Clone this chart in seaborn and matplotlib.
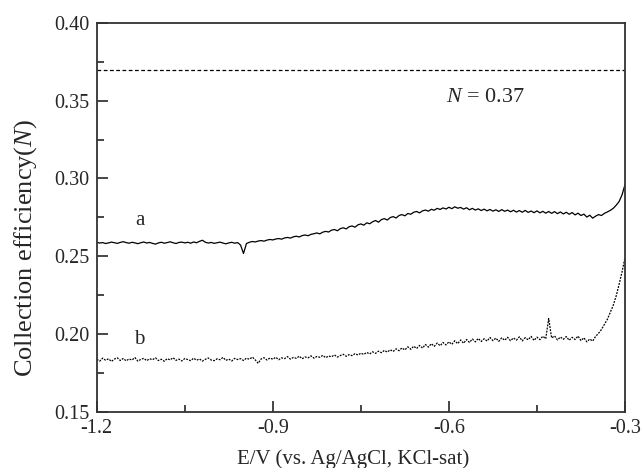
import numpy as np
import pandas as pd
import seaborn as sns
import matplotlib.pyplot as plt
from matplotlib.ticker import MultipleLocator, FormatStrFormatter

# potential grid, -1.2 .. -0.3 V in 5 mV steps
potential = np.linspace(-1.2, -0.3, 181)

# curve a
eff_a = [
    0.2590, 0.2585, 0.2588, 0.2582, 0.2586, 0.2591, 0.2587, 0.2583, 0.2589, 0.2594,
    0.2588, 0.2584, 0.2590, 0.2586, 0.2581, 0.2587, 0.2592, 0.2585, 0.2589, 0.2583,
    0.2578, 0.2586, 0.2590, 0.2584, 0.2588, 0.2593, 0.2587, 0.2582, 0.2589, 0.2591,
    0.2586, 0.2590, 0.2584, 0.2592, 0.2587, 0.2596, 0.2603, 0.2590, 0.2585, 0.2589,
    0.2583, 0.2587, 0.2591, 0.2585, 0.2580, 0.2586, 0.2590, 0.2584, 0.2588, 0.2572,
    0.2518, 0.2582, 0.2590, 0.2595, 0.2592, 0.2598, 0.2601, 0.2597, 0.2604, 0.2608,
    0.2605, 0.2611, 0.2614, 0.2610, 0.2618, 0.2621, 0.2617, 0.2625, 0.2629, 0.2624,
    0.2633, 0.2637, 0.2632, 0.2641, 0.2645, 0.2650, 0.2644, 0.2655, 0.2660, 0.2656,
    0.2668, 0.2672, 0.2664, 0.2678, 0.2683, 0.2676, 0.2690, 0.2695, 0.2687, 0.2702,
    0.2708, 0.2700, 0.2715, 0.2709, 0.2722, 0.2730, 0.2719, 0.2736, 0.2742, 0.2733,
    0.2749, 0.2755, 0.2746, 0.2762, 0.2768, 0.2760, 0.2775, 0.2770, 0.2783, 0.2788,
    0.2779, 0.2792, 0.2797, 0.2790, 0.2802, 0.2796, 0.2808, 0.2801, 0.2811, 0.2804,
    0.2815, 0.2806, 0.2818, 0.2809, 0.2814, 0.2803, 0.2812, 0.2799, 0.2808, 0.2797,
    0.2805, 0.2794, 0.2803, 0.2792, 0.2801, 0.2790, 0.2799, 0.2788, 0.2800, 0.2789,
    0.2797, 0.2786, 0.2796, 0.2784, 0.2794, 0.2783, 0.2795, 0.2782, 0.2791, 0.2780,
    0.2792, 0.2779, 0.2789, 0.2777, 0.2788, 0.2776, 0.2787, 0.2774, 0.2785, 0.2772,
    0.2783, 0.2770, 0.2781, 0.2766, 0.2777, 0.2762, 0.2771, 0.2752, 0.2764, 0.2745,
    0.2758, 0.2768, 0.2762, 0.2776, 0.2785, 0.2795, 0.2808, 0.2828, 0.2852, 0.2895,
    0.2960,
]

# curve b
eff_b = [
    0.1838, 0.1826, 0.1845, 0.1832, 0.1841, 0.1824, 0.1839, 0.1847, 0.1830, 0.1843,
    0.1828, 0.1840, 0.1833, 0.1849, 0.1826, 0.1837, 0.1844, 0.1829, 0.1841, 0.1835,
    0.1847, 0.1830, 0.1838, 0.1825, 0.1842, 0.1834, 0.1848, 0.1831, 0.1839, 0.1827,
    0.1843, 0.1836, 0.1829, 0.1845, 0.1832, 0.1840, 0.1826, 0.1838, 0.1846, 0.1833,
    0.1829, 0.1841, 0.1835, 0.1850, 0.1831, 0.1839, 0.1827, 0.1844, 0.1836, 0.1842,
    0.1830, 0.1845, 0.1838, 0.1852, 0.1834, 0.1812, 0.1840, 0.1848, 0.1833, 0.1846,
    0.1838, 0.1851, 0.1835, 0.1847, 0.1842, 0.1855, 0.1839, 0.1850, 0.1844, 0.1858,
    0.1841, 0.1853, 0.1847, 0.1860, 0.1845, 0.1856, 0.1851, 0.1863, 0.1848, 0.1859,
    0.1854, 0.1866, 0.1852, 0.1862, 0.1870, 0.1857, 0.1868, 0.1861, 0.1874, 0.1865,
    0.1877, 0.1869, 0.1882, 0.1872, 0.1886, 0.1876, 0.1890, 0.1880, 0.1895, 0.1884,
    0.1899, 0.1888, 0.1905, 0.1893, 0.1911, 0.1898, 0.1918, 0.1902, 0.1922, 0.1907,
    0.1927, 0.1910, 0.1933, 0.1916, 0.1938, 0.1921, 0.1942, 0.1925, 0.1946, 0.1930,
    0.1950, 0.1934, 0.1957, 0.1938, 0.1962, 0.1941, 0.1965, 0.1946, 0.1968, 0.1950,
    0.1972, 0.1952, 0.1970, 0.1955, 0.1978, 0.1958, 0.1974, 0.1953, 0.1976, 0.1960,
    0.1979, 0.1957, 0.1975, 0.1961, 0.1982, 0.1956, 0.1977, 0.1963, 0.1985, 0.1959,
    0.1980, 0.1964, 0.1986, 0.1970, 0.2100, 0.1975, 0.1988, 0.1962, 0.1981, 0.1966,
    0.1984, 0.1960, 0.1979, 0.1965, 0.1987, 0.1958, 0.1976, 0.1950, 0.1968, 0.1955,
    0.1985, 0.2005, 0.2030, 0.2062, 0.2095, 0.2140, 0.2185, 0.2245, 0.2320, 0.2400,
    0.2490,
]

n_theory = 0.37

df = pd.DataFrame({"E": potential, "a": eff_a, "b": eff_b})

sns.set_theme(style="ticks")
plt.rcParams["font.family"] = ["Liberation Serif", "DejaVu Serif"]
plt.rcParams["mathtext.fontset"] = "custom"
plt.rcParams["mathtext.rm"] = "Liberation Serif"
plt.rcParams["mathtext.it"] = "Liberation Serif:italic"
plt.rcParams["axes.unicode_minus"] = False

fig, ax = plt.subplots(figsize=(6.41, 4.68), dpi=100)
fig.subplots_adjust(left=0.151, right=0.975, bottom=0.12, top=0.951)

sns.lineplot(data=df, x="E", y="a", ax=ax, color="black", linewidth=0.9)
sns.lineplot(data=df, x="E", y="b", ax=ax, color="black", linewidth=0.9,
             linestyle=(0, (1.5, 1)))
ax.axhline(n_theory, color="black", linewidth=0.9, linestyle=(0, (3, 2)))

ax.set_xlim(-1.2, -0.3)
ax.set_ylim(0.15, 0.40)
ax.xaxis.set_major_locator(MultipleLocator(0.3))
ax.xaxis.set_minor_locator(MultipleLocator(0.15))
ax.yaxis.set_major_locator(MultipleLocator(0.05))
ax.yaxis.set_minor_locator(MultipleLocator(0.025))
ax.xaxis.set_major_formatter(FormatStrFormatter("%.1f"))
ax.yaxis.set_major_formatter(FormatStrFormatter("%.2f"))
ax.tick_params(which="both", direction="in", top=False, right=False, width=1.2,
               labelsize=14.5, pad=5)
ax.tick_params(which="major", length=8)
ax.tick_params(which="minor", length=5)
for sp in ax.spines.values():
    sp.set_linewidth(1.3)
    sp.set_color("#333333")

ax.text(-1.127, 0.2727, "a", fontsize=15, ha="center", va="center")
ax.text(-1.127, 0.1963, "b", fontsize=15, ha="center", va="center")
ax.text(-0.537, 0.3518, r"$N$ = 0.37", fontsize=16, ha="center", va="center")

ax.set_xlabel("E/V (vs. Ag/AgCl, KCl-sat)", fontsize=15)
ax.set_ylabel(r"Collection efficiency($\mathit{N}$)", fontsize=19)
ax.xaxis.set_label_coords(0.485, -0.095)
ax.yaxis.set_label_coords(-0.109, 0.42)

fig.savefig("out.png", dpi=100)
